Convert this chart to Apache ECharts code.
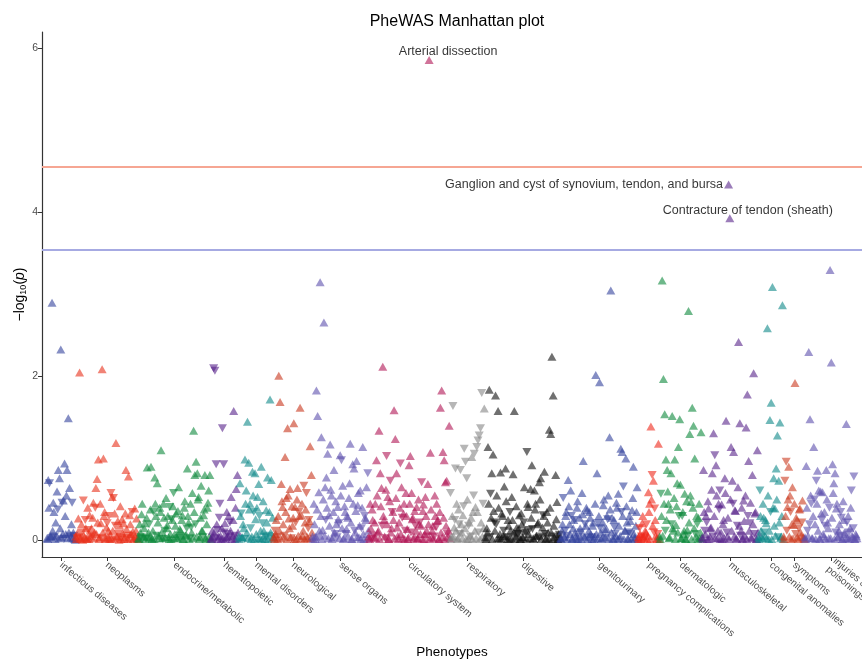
<!DOCTYPE html>
<html><head><meta charset="utf-8">
<script src="https://cdn.jsdelivr.net/npm/echarts@6/dist/echarts.min.js"></script>
<style>html,body{margin:0;padding:0;background:#fff}#c{width:862px;height:660px}</style>
</head><body><div id="c"></div>
<script>
// Phenotype groups (x order) and tick labels
const categories = ['infectious diseases','neoplasms','endocrine/metabolic','hematopoietic','mental disorders','neurological','sense organs','circulatory system','respiratory','digestive','genitourinary','pregnancy complications','dermatologic','musculoskeletal','congenital anomalies','symptoms','injuries & poisonings'];

// -log10(p) per phenotype, in x order; negative sign = negative direction of effect (down triangle)
const infectious = [0.03,0.02,0.74,0.40,-0.70,0.05,0.05,-0.03,2.90,0.12,0.46,0.35,-0.05,0.02,0.22,0.06,0.60,-0.38,0.86,0.03,0.76,0.15,2.33,0.04,-0.46,0.08,0.49,-0.02,0.94,0.30,0.08,0.55,0.86,0.03,1.49,0.10,0.64,-0.05,0.04,0.20,-0.46,0.03,0.10,-0.06,0.02,0.01];
const neoplasms = [0.05,0.02,-0.03,0.10,0.27,-0.04,2.05,0.03,0.02,0.20,-0.10,0.01,-0.49,0.06,0.04,-0.25,0.15,0.03,0.02,0.40,
 -0.13,0.02,0.31,-0.05,0.05,0.15,-0.06,0.28,0.46,0.03,0.10,-0.40,0.64,0.08,0.75,0.22,0.99,0.02,0.04,0.45,
 0.21,-0.03,2.09,0.10,1.00,0.30,0.35,0.02,0.03,0.16,-0.21,0.04,0.12,-0.30,0.02,0.07,-0.58,0.02,0.53,0.12,
 -0.52,0.03,0.33,-0.18,1.19,0.05,0.05,0.24,-0.08,0.01,0.18,0.42,0.02,-0.04,0.26,0.09,0.21,0.02,0.04,0.33,
 0.86,0.14,-0.03,0.02,0.78,-0.06,0.31,0.20,0.08,0.03,-0.35,0.11,0.02,-0.02,0.39,0.05,0.12,0.27,0.03,0.02];
const endocrine = [0.03,0.02,0.20,0.10,-0.04,0.32,0.45,-0.03,0.05,0.15,0.21,0.02,-0.02,0.28,0.89,0.05,0.10,-0.20,0.04,0.38,
 0.90,0.03,0.02,0.12,-0.35,0.02,0.77,0.45,0.30,-0.06,0.70,0.22,0.06,0.03,0.40,0.35,1.10,0.10,0.03,-0.02,
 0.45,0.28,-0.12,0.04,0.52,0.15,0.19,0.30,0.04,0.02,-0.41,0.08,0.02,-0.26,0.25,0.42,-0.58,0.03,0.08,0.18,
 0.33,0.05,0.03,0.36,0.65,-0.03,0.14,0.12,-0.05,0.25,0.31,0.02,0.02,0.40,0.48,0.06,0.07,-0.15,0.88,0.30,
 0.22,0.02,-0.03,0.45,-0.16,0.10,0.58,0.03,1.34,0.35,0.80,-0.20,0.96,0.05,0.82,0.50,0.53,0.02,0.04,0.28,
 0.67,0.12,0.12,-0.04,0.31,0.38,0.80,0.03,0.02,0.20,0.40,0.46,0.61,0.05,0.80,0.02];
const hematopoietic = [0.03,0.02,0.12,0.05,-2.10,0.10,-2.07,-0.03,-0.93,0.20,-0.13,0.02,0.05,-0.28,-0.45,0.06,0.02,0.15,-1.37,0.03,-0.93,-0.10,0.21,0.02,0.04,0.35,-0.08,0.05,0.30,-0.04,-0.22,0.12,0.53,0.02,0.06,0.25,1.58,-0.06,0.02,0.40,0.63,0.03,0.80,0.10];
const mental = [0.05,0.02,0.70,0.30,-0.33,0.04,0.04,0.20,0.15,-0.02,0.99,0.45,0.61,0.10,1.45,0.03,0.95,0.38,0.45,-0.15,0.02,0.05,0.84,0.55,-0.35,0.02,0.82,0.26,0.08,0.40,0.53,0.03,0.69,-0.30,0.03,0.12,0.90,0.02,-0.21,0.48,0.12,0.06,0.02,-0.04,0.37,0.22,0.77,0.02,-0.06,0.35,1.72,0.10,0.74,0.03,0.28,0.05];
const neurological = [0.04,0.02,-0.12,0.08,0.25,-0.04,0.02,0.30,2.01,0.12,1.69,0.03,0.69,0.48,0.41,0.20,0.05,-0.06,1.02,0.35,0.52,0.02,1.37,0.55,0.27,0.15,0.63,0.04,-0.03,0.42,0.18,0.28,1.43,0.02,0.41,-0.22,0.02,0.50,0.64,0.06,-0.35,0.30,1.62,0.03,0.31,0.45,0.06,0.12,-0.67,0.02,0.22,0.38,-0.58,0.05,0.03,-0.15,-0.25,0.24,1.15,0.03,0.80,0.10];
const senseOrgans = [0.05,0.02,0.45,0.20,0.02,0.05,1.83,0.38,1.52,-0.03,0.59,0.12,3.15,0.30,1.26,0.02,0.13,0.50,2.66,0.06,0.65,-0.25,0.77,0.40,1.06,0.03,0.31,0.18,1.17,0.62,0.55,0.02,0.04,0.35,0.86,0.10,-0.08,0.48,0.20,-0.04,0.41,0.26,-0.21,0.03,1.04,0.55,-0.98,0.15,0.67,0.02,0.03,0.42,0.35,-0.08,0.14,0.30,0.28,0.05,0.52,0.70,1.18,0.22,0.02,0.02,0.93,0.45,0.88,-0.12,0.10,0.36,0.97,0.04,0.43,0.58,0.04,0.18,0.61,0.02,-0.15,0.40,1.14,0.08,0.02,-0.30,0.28,0.25,0.65,0.03,-0.82,0.12];
const circulatory = [0.05,0.02,0.45,0.15,-0.02,0.38,0.25,-0.06,0.04,0.22,0.45,0.03,0.98,0.55,0.10,0.12,1.34,0.02,0.82,0.42,
 0.64,-0.18,2.12,0.30,0.25,0.05,-0.03,0.62,-1.03,0.20,0.53,0.02,0.02,0.48,-0.73,0.10,0.15,-0.35,0.35,0.25,
 1.59,0.03,1.24,0.52,0.82,0.16,0.06,0.02,0.22,0.40,-0.94,0.08,0.65,-0.28,0.03,0.33,0.45,0.02,-0.12,0.58,
 0.30,0.14,0.02,0.04,0.92,0.45,1.03,-0.10,0.58,0.26,0.28,0.02,0.05,0.36,-0.18,0.12,0.41,0.03,0.03,0.50,
 0.20,-0.22,0.08,0.18,-0.71,0.02,0.36,0.44,0.02,0.08,0.53,0.30,0.12,-0.05,0.69,0.20,5.86,0.02,1.07,0.38,
 0.04,0.12,0.18,0.03,-0.05,0.55,0.30,-0.16,0.45,0.24,0.25,0.02,0.02,0.35,1.62,0.10,1.83,0.04,1.08,0.28,
 0.98,0.02,0.71,0.18,0.73,-0.08,0.05,0.12,1.40,0.03];
const respiratory = [-0.58,0.02,0.05,0.30,-1.64,0.05,0.16,-0.25,-0.88,0.12,0.45,0.02,0.03,0.38,-0.20,-0.08,-0.86,0.20,0.10,0.03,0.31,-0.42,-1.12,0.15,-0.96,0.02,-0.76,0.50,0.02,-0.18,0.22,0.06,-0.05,0.28,1.02,0.02,0.35,-0.55,-1.06,0.12,0.41,0.03,-1.14,0.35,-1.22,-0.10,-1.28,0.02,-1.37,0.22,-1.80,0.05,-0.45,0.15,1.61,0.02];
const digestive = [0.04,0.02,0.15,0.10,1.14,0.45,1.84,-0.04,-0.57,0.28,0.82,0.02,1.05,0.36,-0.22,0.12,1.77,-0.20,0.55,0.03,
 1.58,0.40,0.03,0.08,0.83,0.02,0.33,0.30,0.06,-0.12,0.66,0.05,0.88,0.48,-0.04,0.02,0.25,0.18,0.02,-0.35,
 0.12,0.03,0.53,0.25,0.81,0.10,1.58,0.02,0.05,0.42,0.16,-0.06,-0.08,0.15,0.31,0.02,0.02,0.33,0.20,0.04,
 0.04,-0.22,0.65,0.12,-0.10,0.02,-1.08,0.45,0.41,0.08,-0.13,0.03,0.63,0.28,0.92,-0.14,0.03,0.02,0.61,0.38,
 0.45,0.06,0.06,0.20,0.22,-0.03,0.71,0.50,0.76,0.02,-0.05,0.16,-0.31,0.30,0.84,-0.08,0.02,0.03,0.35,0.22,
 0.10,0.02,1.35,0.40,1.30,0.10,2.24,0.02,1.77,0.18,0.04,-0.05,0.80,0.26,0.47,0.02,0.02,0.08,-0.07,0.03];
const genitourinary = [0.03,0.02,0.12,0.20,-0.52,0.05,0.04,-0.12,0.30,0.35,-0.06,0.02,0.74,0.42,0.20,0.08,0.61,-0.30,0.02,0.03,
 0.15,0.25,-0.25,0.10,0.05,0.02,0.40,0.48,0.02,-0.05,0.28,0.15,-0.10,0.02,0.58,0.32,0.97,0.06,0.04,-0.20,
 0.18,0.40,0.37,0.02,-0.03,0.12,0.35,0.28,0.08,-0.04,0.02,0.18,0.22,0.02,0.05,0.45,2.02,0.08,0.82,0.03,
 -0.21,0.30,1.93,-0.15,0.10,0.02,0.03,0.22,0.43,0.50,0.14,0.04,-0.04,0.14,0.30,-0.26,0.55,0.02,1.26,0.38,
 3.05,0.10,0.28,0.03,0.02,0.25,-0.16,-0.08,0.06,0.46,0.40,0.02,0.57,0.18,0.03,0.06,1.12,-0.35,1.08,0.30,
 -0.66,0.02,0.12,0.12,1.00,0.42,0.22,0.03,0.02,-0.10,0.30,0.24,-0.08,0.02,0.37,0.52,0.90,0.08,0.04,0.03,
 0.18,0.35,0.65,0.02];
const pregnancy = [0.04,0.02,-0.15,0.08,0.02,-0.05,0.21,0.30,0.05,0.03,-0.03,0.12,0.10,-0.20,0.02,0.06,0.59,0.35,0.45,0.02,1.39,0.50,-0.80,0.18,0.73,-0.10,-0.39,0.25,0.06,0.03,0.02,-0.08,1.18,0.02];
const dermatologic = [0.05,0.02,-0.57,0.30,3.17,0.06,1.97,0.45,1.54,-0.12,0.99,0.25,0.86,0.60,0.45,0.03,0.04,0.38,0.82,-0.20,1.52,0.15,0.12,0.52,0.99,0.02,0.19,0.42,0.70,0.10,1.14,-0.30,1.48,0.68,0.03,0.03,-0.30,0.35,0.08,0.12,0.57,0.02,0.02,0.48,0.13,-0.06,2.80,0.22,1.30,0.55,0.47,0.02,1.62,0.40,1.40,0.15,1.00,-0.08,0.05,0.30,-0.20,0.02,0.28,0.45,0.03,0.10,1.32,0.03];
const musculoskeletal = [0.04,0.02,0.86,0.35,-0.12,0.08,0.30,-0.22,0.02,0.48,0.39,0.02,0.05,0.15,0.16,0.62,0.82,-0.05,1.31,0.30,-1.04,0.03,0.92,0.55,0.03,0.12,0.45,-0.38,-0.61,0.02,0.10,0.44,0.02,0.20,0.25,0.03,0.76,0.58,1.46,-0.10,0.05,0.28,4.34,0.02,3.93,0.50,1.14,0.12,0.73,-0.45,1.08,0.05,0.37,0.36,0.03,0.02,-0.18,0.65,2.42,0.18,1.43,-0.06,0.12,0.40,0.02,0.03,0.49,0.24,0.06,0.55,1.38,0.02,1.78,-0.30,0.97,0.12,-0.21,0.46,0.04,0.03,0.80,0.20,2.04,-0.08,0.33,0.35,0.02,0.02,1.10,0.10];
const congenital = [0.04,0.02,-0.61,0.30,0.12,0.05,0.03,0.45,0.28,-0.10,0.06,0.25,0.21,0.03,2.59,0.55,0.02,0.12,1.47,-0.35,1.68,0.02,3.09,0.40,0.76,0.18,0.39,0.06,0.88,0.50,1.28,-0.04,0.73,0.22,1.44,0.03,0.05,0.30,2.87,0.02];
const symptoms = [0.05,0.02,-0.73,0.30,-0.96,-0.12,0.41,0.50,0.90,0.05,0.55,-0.35,0.02,0.20,0.65,0.03,0.19,0.45,1.92,-0.08,0.28,0.25,0.04,0.02,-0.15,0.38,0.39,0.10,0.06,-0.22,0.49,0.04,0.03,0.02];
const injuries = [0.04,0.02,0.91,0.40,-0.12,0.06,2.30,-0.20,1.48,0.55,-0.45,0.03,0.03,0.30,1.14,-0.50,0.20,0.02,-0.73,0.45,0.85,0.12,0.61,0.03,0.02,0.60,0.33,-0.25,0.59,0.08,0.05,0.35,-0.18,0.02,0.86,0.50,0.22,0.15,0.03,-0.40,3.30,0.03,2.17,0.28,0.93,0.58,0.70,0.02,0.82,-0.10,0.39,0.45,0.04,0.05,0.12,0.20,-0.06,-0.35,-0.28,0.02,0.02,0.48,0.25,0.10,0.08,0.03,1.42,-0.22,0.03,0.30,-0.10,0.02,0.15,0.40,-0.61,0.06,0.04,-0.15,-0.78,0.02,0.02,0.08,0.06,0.03];

const groupValues = [infectious,neoplasms,endocrine,hematopoietic,mental,neurological,senseOrgans,circulatory,respiratory,digestive,genitourinary,pregnancy,dermatologic,musculoskeletal,congenital,symptoms,injuries];
const groupColors = ['#33439C','#E8301A','#0E883C','#56228A','#0F8888','#C8361C','#5E50AE','#B01555','#858585','#101010','#33439C','#EE281A','#0E883C','#58248A','#0F8888','#CC3A20','#5E50AE'];

// significance thresholds (-log10 p)
const bonferroniLine = 4.556;
const fdrLine = 3.553;

// annotated phenotypes: group, position within group, description
const annotations = [
  {group: 7, pos: 96, name: 'Arterial dissection'},
  {group: 13, pos: 42, name: 'Ganglion and cyst of synovium, tendon, and bursa'},
  {group: 13, pos: 44, name: 'Contracture of tendon (sheath)'}
];
const labelStyles = [
  {position: 'inside', offset: [19, -8]},
  {position: 'left', distance: 1},
  {position: 'inside', offset: [18, -8]}
];

function rgba(hex, a) {
  const n = parseInt(hex.slice(1), 16);
  return 'rgba(' + (n >> 16 & 255) + ',' + (n >> 8 & 255) + ',' + (n & 255) + ',' + a + ')';
}

const FONT = '"Liberation Sans", Arial, Helvetica, sans-serif';
let start = 0;
const tickPos = [];
const tickName = {};
const series = [];
groupValues.forEach((vals, g) => {
  const data = vals.map((v, j) => {
    const item = {value: [start + j, Math.abs(v)], symbolRotate: v < 0 ? 180 : 0};
    annotations.forEach((a, k) => {
      if (a.group === g && a.pos === j) {
        item.label = Object.assign({show: true, formatter: a.name, color: '#000', fontSize: 12.5, fontFamily: FONT}, labelStyles[k]);
      }
    });
    return item;
  });
  const mid = start + (vals.length - 1) / 2;
  tickPos.push(mid);
  tickName[mid] = categories[g];
  start += vals.length;
  series.push({
    type: 'scatter', name: categories[g], data,
    symbol: 'triangle', symbolSize: [9, 8],
    itemStyle: {color: rgba(groupColors[g], 0.75)},
    emphasis: {disabled: true}, animation: false, z: 2
  });
});
const total = start;
series.push({
  type: 'line', data: [], silent: true, animation: false,
  markLine: {
    silent: true, symbol: ['none', 'none'], label: {show: false}, animation: false,
    data: [
      {yAxis: bonferroniLine, lineStyle: {color: '#F6A693', width: 2, type: 'solid'}},
      {yAxis: fdrLine, lineStyle: {color: '#A6AAE2', width: 2, type: 'solid'}}
    ]
  }
});

const chart = echarts.init(document.getElementById('c'), null, {renderer: 'canvas'});
chart.setOption({
  backgroundColor: '#fff',
  animation: false,
  title: {text: 'PheWAS Manhattan plot', left: 452, top: 9, textAlign: 'center',
    textStyle: {fontFamily: FONT, fontSize: 16, fontWeight: 'normal', color: '#000'}},
  grid: {left: 42, right: 0, top: 32, bottom: 103, containLabel: false, outerBoundsMode: 'none'},
  xAxis: {
    type: 'value', min: -8, max: total + 7,
    name: 'Phenotypes', nameLocation: 'middle', nameGap: 88, nameMoveOverlap: false,
    nameTextStyle: {fontFamily: FONT, fontSize: 13.5, color: '#000'},
    axisLine: {show: true, onZero: false, lineStyle: {color: '#333', width: 1.2}},
    axisTick: {show: true, length: 4, customValues: tickPos, lineStyle: {color: '#333'}},
    axisLabel: {customValues: tickPos, rotate: -40, margin: 7, fontFamily: FONT, fontSize: 10, color: '#4d4d4d', lineHeight: 11,
      formatter: v => (tickName[v] || '').replace('& ', '&\n')},
    splitLine: {show: false}
  },
  yAxis: {
    type: 'value', min: -0.2, max: 6.2,
    name: '{a|−log}{b|10}{a|(}{c|p}{a|)}', nameLocation: 'middle', nameGap: 14, nameRotate: 90, nameMoveOverlap: false,
    nameTextStyle: {fontFamily: FONT, color: '#000', rich: {
      a: {fontFamily: FONT, fontSize: 14, color: '#000'},
      b: {fontFamily: FONT, fontSize: 9, color: '#000', verticalAlign: 'bottom', padding: [6, 0, 0, 0]},
      c: {fontFamily: FONT, fontSize: 14, color: '#000', fontStyle: 'italic'}
    }},
    axisLine: {show: true, onZero: false, lineStyle: {color: '#333', width: 1.2}},
    axisTick: {show: true, length: 4, customValues: [0, 2, 4, 6], lineStyle: {color: '#333'}},
    axisLabel: {customValues: [0, 2, 4, 6], margin: 4, fontFamily: FONT, fontSize: 10.5, color: '#4d4d4d'},
    splitLine: {show: false}
  },
  series
});
</script></body></html>
